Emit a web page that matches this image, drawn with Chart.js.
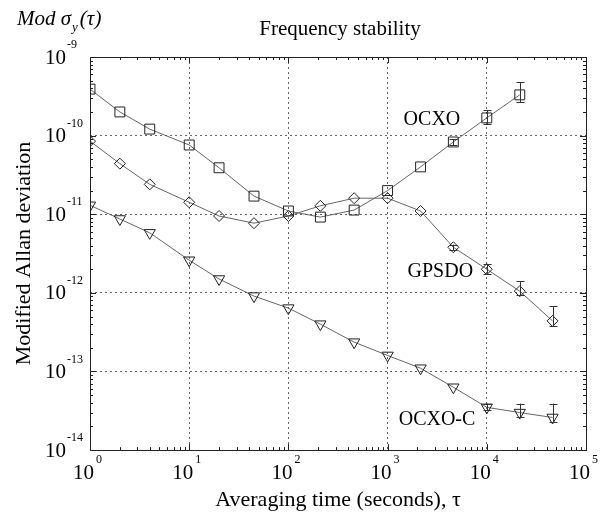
<!DOCTYPE html>
<html>
<head>
<meta charset="utf-8">
<script src="https://cdn.jsdelivr.net/npm/chart.js@4/dist/chart.umd.min.js"></script>
<style>
  html, body { margin: 0; padding: 0; background: #fff; }
  #wrap { width: 606px; height: 515px; }
</style>
</head>
<body>
<div id="wrap"><canvas id="c"></canvas></div>
<script>
// averaging times (s)
var tau = [1, 2, 4, 10, 20, 45, 100, 210, 460, 1000, 2150, 4600, 10000, 21500, 46000];

// modified Allan deviation
var ocxo   = [3.9e-10, 2.0e-10, 1.21e-10, 7.6e-11, 3.9e-11, 1.7e-11, 1.1e-11, 9.2e-12, 1.13e-11, 2.0e-11, 4.0e-11, 8.3e-11, 1.68e-10, 3.3e-10];
var gpsdo  = [8.5e-11, 4.4e-11, 2.4e-11, 1.42e-11, 9.5e-12, 7.7e-12, 9.5e-12, 1.28e-11, 1.6e-11, 1.6e-11, 1.1e-11, 3.8e-12, 2.0e-12, 1.05e-12, 4.4e-13];
var ocxoC  = [1.3e-11, 8.7e-12, 5.8e-12, 2.6e-12, 1.5e-12, 9.1e-13, 6.4e-13, 4.0e-13, 2.36e-13, 1.6e-13, 1.1e-13, 6.3e-14, 3.5e-14, 3.0e-14, 2.6e-14];

// error bars (null = none visible)
var ocxoLo  = [null, null, null, null, null, null, null, null, null, null, null, 7.6e-11, 1.41e-10, 2.67e-10];
var ocxoHi  = [null, null, null, null, null, null, null, null, null, null, null, 9.0e-11, 2.12e-10, 4.8e-10];
var gpsdoLo = [null, null, null, null, null, null, null, null, null, null, null, 3.5e-12, 1.75e-12, 9.3e-13, 3.8e-13];
var gpsdoHi = [null, null, null, null, null, null, null, null, null, null, null, 4.1e-12, 2.3e-12, 1.41e-12, 6.8e-13];
var ocxoCLo = [null, null, null, null, null, null, null, null, null, null, null, null, 3.2e-14, 2.6e-14, 2.3e-14];
var ocxoCHi = [null, null, null, null, null, null, null, null, null, null, null, null, 3.9e-14, 3.9e-14, 3.9e-14];

// tick labels: 10^exp
var xTickExp = [0, 1, 2, 3, 4, 5];
var yTickExp = [-9, -10, -11, -12, -13, -14];

var seriesNames = ['OCXO', 'GPSDO', 'OCXO-C'];
var seriesLabelAt = [[2800, 1.6e-10], [3400, 1.84e-12], [3150, 2.4e-14]];

var SERIF = "'Liberation Serif', 'Times New Roman', serif";

function pts(vals) {
  return vals.map(function (v, i) { return { x: tau[i], y: v }; });
}

var errLo = [ocxoLo, gpsdoLo, ocxoCLo];
var errHi = [ocxoHi, gpsdoHi, ocxoCHi];

var errorBars = {
  id: 'errorBars',
  afterDatasetsDraw: function (chart) {
    var ctx = chart.ctx, xs = chart.scales.x, ys = chart.scales.y;
    ctx.save();
    ctx.strokeStyle = '#333';
    ctx.lineWidth = 1;
    for (var d = 0; d < errLo.length; d++) {
      for (var i = 0; i < errLo[d].length; i++) {
        if (errLo[d][i] == null) continue;
        var x = Math.round(xs.getPixelForValue(tau[i])) + 0.5;
        var y1 = ys.getPixelForValue(errLo[d][i]);
        var y2 = ys.getPixelForValue(errHi[d][i]);
        ctx.beginPath();
        ctx.moveTo(x, y1); ctx.lineTo(x, y2);
        ctx.moveTo(x - 4, Math.round(y1) + 0.5); ctx.lineTo(x + 4, Math.round(y1) + 0.5);
        ctx.moveTo(x - 4, Math.round(y2) + 0.5); ctx.lineTo(x + 4, Math.round(y2) + 0.5);
        ctx.stroke();
      }
    }
    ctx.restore();
  }
};

var decor = {
  id: 'decor',
  afterDraw: function (chart) {
    var ctx = chart.ctx, a = chart.chartArea, xs = chart.scales.x, ys = chart.scales.y;
    ctx.save();
    // box
    ctx.strokeStyle = '#222';
    ctx.lineWidth = 1;
    ctx.strokeRect(Math.round(a.left) + 0.5, Math.round(a.top) + 0.5,
      Math.round(a.right - a.left), Math.round(a.bottom - a.top));

    // minor / major ticks, inside, on all four sides
    ctx.beginPath();
    var k, m, p, len;
    for (k = 0; k < 5; k++) {
      for (m = 1; m <= 9; m++) {
        p = Math.round(xs.getPixelForValue(m * Math.pow(10, k))) + 0.5;
        len = m === 1 ? 6 : 3;
        ctx.moveTo(p, a.bottom); ctx.lineTo(p, a.bottom - len);
        ctx.moveTo(p, a.top); ctx.lineTo(p, a.top + len);
      }
    }
    for (k = -14; k < -9; k++) {
      for (m = 1; m <= 9; m++) {
        p = Math.round(ys.getPixelForValue(m * Math.pow(10, k))) + 0.5;
        len = m === 1 ? 6 : 3;
        ctx.moveTo(a.left, p); ctx.lineTo(a.left + len, p);
        ctx.moveTo(a.right, p); ctx.lineTo(a.right - len, p);
      }
    }
    ctx.stroke();

    // tick labels 10^n
    ctx.fillStyle = '#000';
    xTickExp.forEach(function (e) {
      var px = xs.getPixelForValue(Math.pow(10, e));
      ctx.font = '21px ' + SERIF;
      ctx.textAlign = 'right';
      ctx.textBaseline = 'middle';
      ctx.fillText('10', px + 4, 473);
      ctx.font = '12px ' + SERIF;
      ctx.textAlign = 'left';
      ctx.fillText(String(e), px + 6, 460);
    });
    yTickExp.forEach(function (e) {
      var py = ys.getPixelForValue(Math.pow(10, e));
      ctx.font = '21px ' + SERIF;
      ctx.textAlign = 'right';
      ctx.textBaseline = 'middle';
      ctx.fillText('10', 66, py + 1);
      ctx.font = '12px ' + SERIF;
      ctx.textAlign = 'left';
      ctx.fillText(String(e), 67, py - 12);
    });

    // title
    ctx.font = '21px ' + SERIF;
    ctx.textAlign = 'center';
    ctx.textBaseline = 'middle';
    ctx.fillText('Frequency stability', 340, 29);

    // Mod sigma_y(tau)
    ctx.textAlign = 'left';
    ctx.textBaseline = 'alphabetic';
    ctx.font = 'italic 21px ' + SERIF;
    var tx = 17;
    ctx.fillText('Mod \u03c3', tx, 25);
    tx += ctx.measureText('Mod \u03c3').width + 1;
    ctx.font = 'italic 13px ' + SERIF;
    ctx.fillText('y', tx, 31);
    tx += ctx.measureText('y').width + 2;
    ctx.font = 'italic 21px ' + SERIF;
    ctx.fillText('(\u03c4)', tx, 25);

    // series labels
    ctx.font = '20px ' + SERIF;
    ctx.textAlign = 'center';
    ctx.textBaseline = 'middle';
    seriesNames.forEach(function (n, i) {
      ctx.fillText(n, xs.getPixelForValue(seriesLabelAt[i][0]), ys.getPixelForValue(seriesLabelAt[i][1]));
    });
    ctx.restore();
  }
};

function gridColor(c) {
  var v = c.tick ? c.tick.value : 0;
  var e = Math.log10(v);
  if (Math.abs(e - Math.round(e)) > 1e-6) return 'rgba(0,0,0,0)';
  return '#666';
}

function ds(data, style, radius, rot) {
  return {
    data: data,
    borderColor: '#555',
    borderWidth: 0.9,
    pointStyle: style,
    pointRadius: radius,
    pointRotation: rot || 0,
    pointBorderColor: '#222',
    pointBorderWidth: 1,
    pointBackgroundColor: 'rgba(0,0,0,0)',
    fill: false,
    tension: 0
  };
}

new Chart(document.getElementById('c'), {
  type: 'line',
  data: {
    datasets: [
      ds(pts(ocxo), 'rect', 7),
      ds(pts(gpsdo), 'rectRot', 5.5),
      ds(pts(ocxoC), 'triangle', 6.5, 180)
    ]
  },
  plugins: [errorBars, decor],
  options: {
    responsive: true,
    maintainAspectRatio: false,
    animation: false,
    layout: { padding: { top: 57, right: 20, left: 0, bottom: 0 } },
    plugins: { legend: { display: false }, tooltip: { enabled: false } },
    scales: {
      x: {
        type: 'logarithmic',
        min: 1, max: 1e5,
        ticks: { display: false },
        grid: {
          drawTicks: false,
          color: function (c) {
            var v = c.tick ? c.tick.value : 0;
            if (v <= 1 || v >= 1e5) return 'rgba(0,0,0,0)';
            return gridColor(c);
          },
          lineWidth: 1
        },
        border: { display: false, dash: [2, 3] },
        title: {
          display: true,
          text: 'Averaging time (seconds), \u03c4',
          color: '#000',
          font: { family: SERIF, size: 22 },
          padding: { top: 36.5, bottom: 2 }
        }
      },
      y: {
        type: 'logarithmic',
        min: 1e-14, max: 1e-9,
        ticks: { display: false },
        grid: {
          drawTicks: false,
          color: function (c) {
            var v = c.tick ? c.tick.value : 0;
            if (v <= 1.0001e-14 || v >= 0.9999e-9) return 'rgba(0,0,0,0)';
            return gridColor(c);
          },
          lineWidth: 1
        },
        border: { display: false, dash: [2, 3] },
        title: {
          display: true,
          text: 'Modified Allan deviation',
          color: '#000',
          font: { family: SERIF, size: 22 },
          padding: { top: 11, bottom: 52.6 }
        }
      }
    }
  }
});
</script>
</body>
</html>
